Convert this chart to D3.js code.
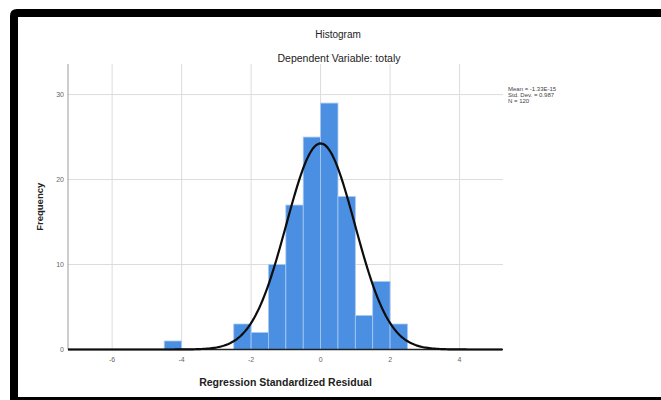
<!DOCTYPE html>
<html>
<head>
<meta charset="utf-8">
<script src="https://cdn.jsdelivr.net/npm/d3@7"></script>
<style>
    html, body { margin: 0; background: #fff; overflow: hidden; width: 661px; height: 400px; }
    svg { display: block; }
    text { font-family: Arial, "Liberation Sans", sans-serif; }
</style>
</head>
<body>
<div id="my_dataviz"></div>
<script>
// Histogram data (bin start, count)
const binStarts = [-4.5, -2.5, -2, -1.5, -1, -0.5, 0, 0.5, 1, 1.5, 2];
const counts = [1, 3, 2, 10, 17, 25, 29, 18, 4, 8, 3];
const binWidth = 0.5;

// Summary stats shown at the right
const statMean = 0;
const statSd = 0.987;
const statN = 120;
const statLabels = ["Mean = -1.33E-15", "Std. Dev. = 0.987", "N = 120"];

// Axis ticks
const xTicks = [-6, -4, -2, 0, 2, 4];
const yTicks = [0, 10, 20, 30];

const bins = binStarts.map((b, i) => ({x0: b, x1: b + binWidth, count: counts[i]}));

const W = 661, H = 400;
const plot = {left: 68, right: 503, top: 64, bottom: 349.5};

const svg = d3.select("#my_dataviz")
    .append("svg")
    .attr("width", W)
    .attr("height", H);

// Scales
const x = d3.scaleLinear()
    .domain([-7.27, 5.25])
    .range([plot.left, plot.right]);

const y = d3.scaleLinear()
    .domain([0, 33.6])
    .range([plot.bottom, plot.top]);

// Gridlines
svg.append("g")
    .selectAll("line")
    .data(xTicks)
    .join("line")
    .attr("x1", d => x(d)).attr("x2", d => x(d))
    .attr("y1", plot.top).attr("y2", plot.bottom)
    .attr("stroke", "#dcdcdc")
    .attr("stroke-width", 1);

svg.append("g")
    .selectAll("line")
    .data(yTicks.filter(d => d > 0))
    .join("line")
    .attr("x1", plot.left).attr("x2", plot.right)
    .attr("y1", d => y(d)).attr("y2", d => y(d))
    .attr("stroke", "#dcdcdc")
    .attr("stroke-width", 1);

// Bars
svg.append("g")
    .selectAll("rect")
    .data(bins)
    .join("rect")
    .attr("x", d => x(d.x0))
    .attr("y", d => y(d.count))
    .attr("width", d => x(d.x1) - x(d.x0))
    .attr("height", d => y(0) - y(d.count))
    .attr("fill", "#4a8fe2")
    .attr("stroke", "#a9c9f0")
    .attr("stroke-width", 0.8);

// Y axis line
svg.append("line")
    .attr("x1", plot.left).attr("x2", plot.left)
    .attr("y1", plot.top).attr("y2", plot.bottom)
    .attr("stroke", "#9a9a9a")
    .attr("stroke-width", 1);

// X axis line
svg.append("line")
    .attr("x1", plot.left).attr("x2", plot.right)
    .attr("y1", plot.bottom).attr("y2", plot.bottom)
    .attr("stroke", "#222")
    .attr("stroke-width", 1.5);

// Normal curve
const curvePts = d3.range(x.domain()[0], x.domain()[1] + 0.001, 0.05).map(v => {
    const z = (v - statMean) / statSd;
    return [v, statN * binWidth * Math.exp(-0.5 * z * z) / (statSd * Math.sqrt(2 * Math.PI))];
});

svg.append("path")
    .datum(curvePts)
    .attr("fill", "none")
    .attr("stroke", "#0d0d0d")
    .attr("stroke-width", 2.2)
    .attr("d", d3.line().x(d => x(d[0])).y(d => y(d[1])));

// Tick labels
svg.append("g")
    .selectAll("text")
    .data(xTicks)
    .join("text")
    .attr("x", d => x(d))
    .attr("y", 361.5)
    .attr("text-anchor", "middle")
    .attr("font-size", "7px")
    .attr("fill", "#666")
    .text(d => d);

svg.append("g")
    .selectAll("text")
    .data(yTicks)
    .join("text")
    .attr("x", 64)
    .attr("y", d => y(d) + 2.5)
    .attr("text-anchor", "end")
    .attr("font-size", "7px")
    .attr("fill", "#666")
    .text(d => d);

// Axis titles
svg.append("text")
    .attr("x", (plot.left + plot.right) / 2)
    .attr("y", 385.5)
    .attr("text-anchor", "middle")
    .attr("font-size", "10.5px")
    .attr("font-weight", "bold")
    .attr("fill", "#222")
    .text("Regression Standardized Residual");

svg.append("text")
    .attr("transform", `translate(43,${(plot.top + plot.bottom) / 2}) rotate(-90)`)
    .attr("text-anchor", "middle")
    .attr("font-size", "9.5px")
    .attr("font-weight", "bold")
    .attr("fill", "#222")
    .text("Frequency");

// Titles
svg.append("text")
    .attr("x", 338)
    .attr("y", 37.5)
    .attr("text-anchor", "middle")
    .attr("font-size", "10px")
    .attr("fill", "#222")
    .text("Histogram");

svg.append("text")
    .attr("x", 339)
    .attr("y", 61.5)
    .attr("text-anchor", "middle")
    .attr("font-size", "10.5px")
    .attr("fill", "#222")
    .text("Dependent Variable: totaly");

// Stats box
svg.append("g")
    .selectAll("text")
    .data(statLabels)
    .join("text")
    .attr("x", 508)
    .attr("y", (d, i) => 91 + i * 5.8)
    .attr("font-size", "6px")
    .attr("fill", "#444")
    .text(d => d);

// Black frame: left, top and bottom edges (right edge is outside the picture)
svg.append("path")
    .attr("d", "M 700 13 L 17 13 Q 14 13 14 16 L 14 401 L 700 401")
    .attr("fill", "none")
    .attr("stroke", "#000")
    .attr("stroke-width", 8);

// keep the right margin white
svg.append("rect")
    .attr("x", 640).attr("y", 18)
    .attr("width", 30).attr("height", 378)
    .attr("fill", "#fff");
</script>
</body>
</html>
